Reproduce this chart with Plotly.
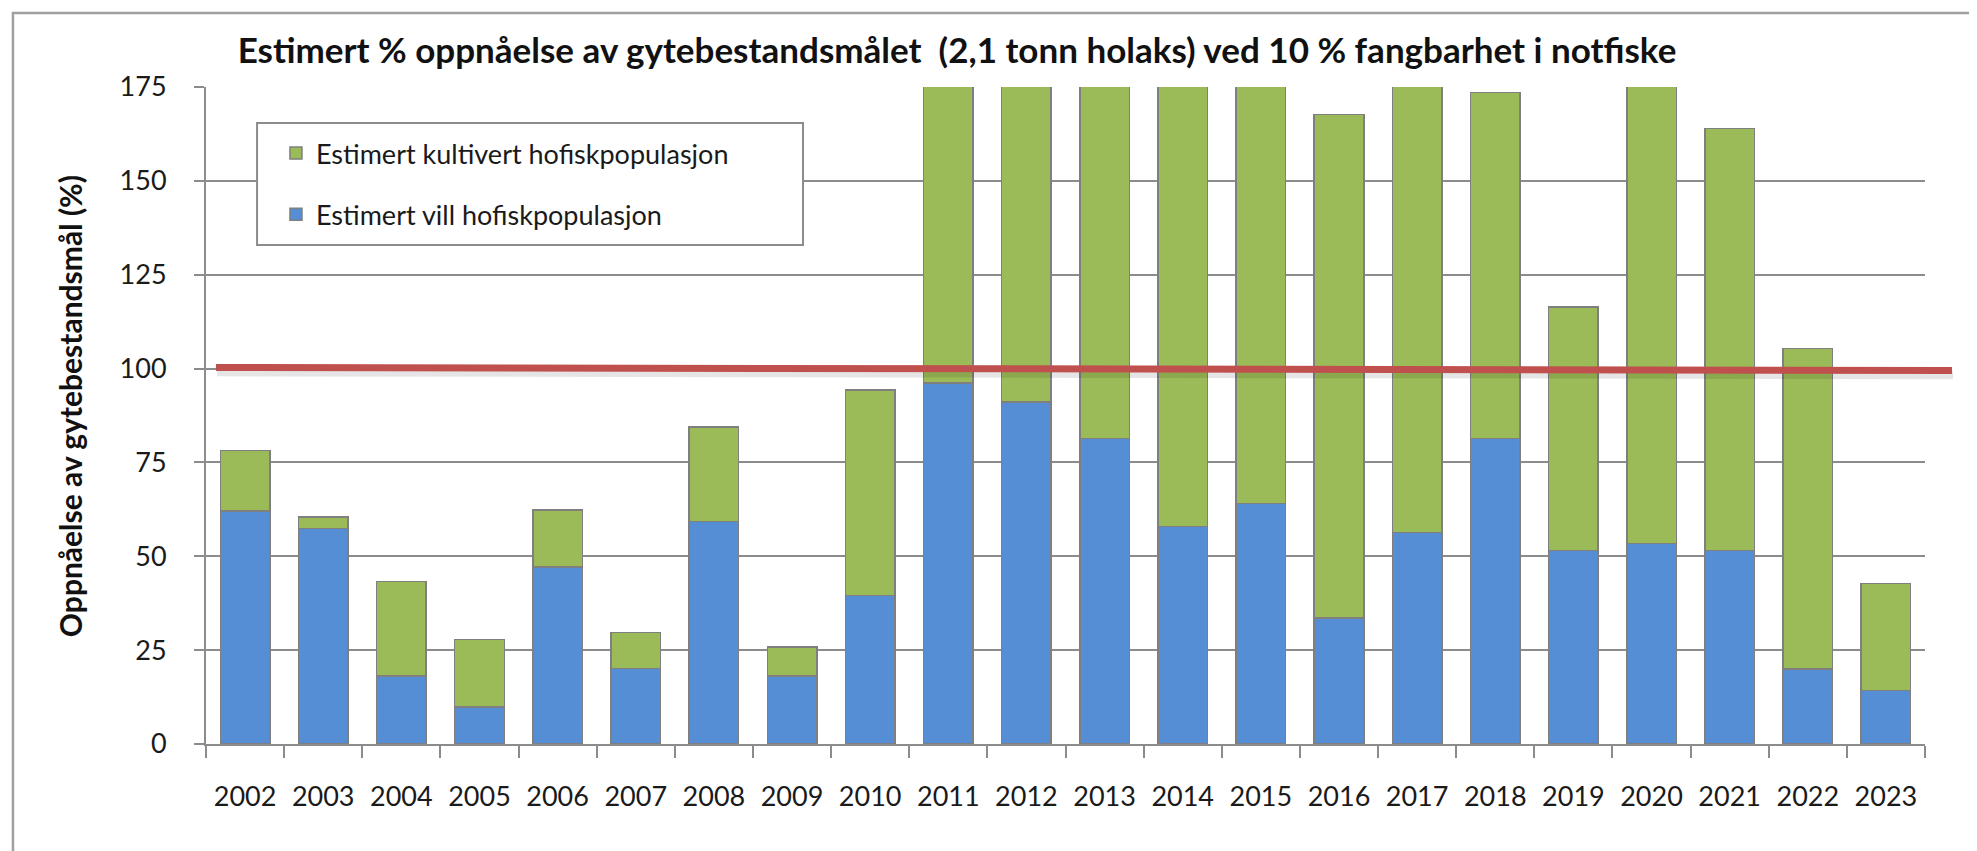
import plotly.graph_objects as go

# data (% of spawning stock target)
years = [str(y) for y in range(2002, 2024)]
vill = [62.1, 57.4, 18.1, 9.8, 47.2, 20.1, 59.3, 18.1, 39.5, 96.2, 91.1,
        81.4, 57.9, 64.1, 33.5, 56.3, 81.4, 51.5, 53.4, 51.5, 20.0, 14.2]
# cultivated part; bars for 2011-2015, 2017 and 2020 run off the top of the axis
kultivert = [16.1, 3.1, 25.2, 18.1, 15.1, 9.6, 25.1, 7.7, 54.8, 140.0, 120.0,
             150.0, 160.0, 135.0, 134.2, 150.0, 92.1, 64.9, 145.0, 112.5, 85.3, 28.6]
target = 100

FONT = "Lato"
GRID = "#8c8c8c"
TXT = "#1a1a1a"

fig = go.Figure()
fig.add_trace(go.Bar(x=years, y=vill, name="Estimert vill hofiskpopulasjon",
                     marker=dict(color="#558ed5", line=dict(color="#7f7f7f", width=1.5)),
                     legendgroup="a", legendrank=2))
fig.add_trace(go.Bar(x=years, y=kultivert, name="Estimert kultivert hofiskpopulasjon",
                     marker=dict(color="#9bbb59", line=dict(color="#7f7f7f", width=1.5)),
                     legendgroup="b", legendrank=1))

shapes = [
    # outer chart frame (only top and left edges show in the picture)
    dict(type="rect", xref="paper", yref="paper", x0=-0.1123, x1=1.06, y0=-0.3, y1=1.1126,
         line=dict(color="#a0a0a0", width=2.5), layer="below"),
    # legend box
    dict(type="rect", xref="paper", yref="paper", x0=0.0297, x1=0.3473, y0=0.7595, y1=0.9452,
         fillcolor="white", line=dict(color=GRID, width=2), layer="above"),
    # soft shadow under the target line
    dict(type="line", xref="paper", yref="y", x0=0.0064, x1=1.0163, y0=target - 1.0, y1=target - 1.8,
         line=dict(color="rgba(0,0,0,0.10)", width=8), layer="above"),
    # target line
    dict(type="line", xref="paper", yref="y", x0=0.0058, x1=1.0157, y0=target + 0.3, y1=target - 0.5,
         line=dict(color="#c0504d", width=7), layer="above"),
]

fig.update_layout(
    barmode="stack",
    bargap=0.366,
    width=1977, height=851,
    margin=dict(l=198, r=60, t=79, b=115),
    paper_bgcolor="white",
    plot_bgcolor="white",
    font=dict(family=FONT, color=TXT),
    title=dict(text="<b>Estimert % oppnåelse av gytebestandsmålet  (2,1 tonn holaks) ved 10 % fangbarhet i notfiske</b>",
               font=dict(family=FONT, size=35, color="#111111"),
               xref="paper", x=0.4369, xanchor="center", y=0.9495, yanchor="middle"),
    legend=dict(x=0.0407, y=0.936, xanchor="left", yanchor="top",
                bgcolor="rgba(0,0,0,0)", borderwidth=0,
                font=dict(family=FONT, size=27, color=TXT),
                tracegroupgap=23, traceorder="grouped"),
    shapes=shapes,
    annotations=[dict(text="<b>Oppnåelse av gytebestandsmål (%)</b>", textangle=-90,
                      xref="paper", yref="y", x=-0.0791, y=90, xanchor="center", yanchor="middle",
                      showarrow=False, font=dict(family=FONT, size=30, color="#111111"))],
)
fig.update_xaxes(type="category", showgrid=False, showline=True, linecolor=GRID, linewidth=2,
                 ticks="outside", tickson="boundaries", ticklen=12, tickwidth=2, tickcolor=GRID,
                 tickfont=dict(family=FONT, size=27, color=TXT), ticklabelstandoff=28)
fig.update_yaxes(range=[0, 175], dtick=25, showgrid=True, gridcolor=GRID, gridwidth=2,
                 showline=True, linecolor=GRID, linewidth=2, zeroline=False,
                 ticks="outside", ticklen=10, tickwidth=2, tickcolor=GRID,
                 tickfont=dict(family=FONT, size=27, color=TXT), ticklabelstandoff=22)

fig.write_html("out.html")
